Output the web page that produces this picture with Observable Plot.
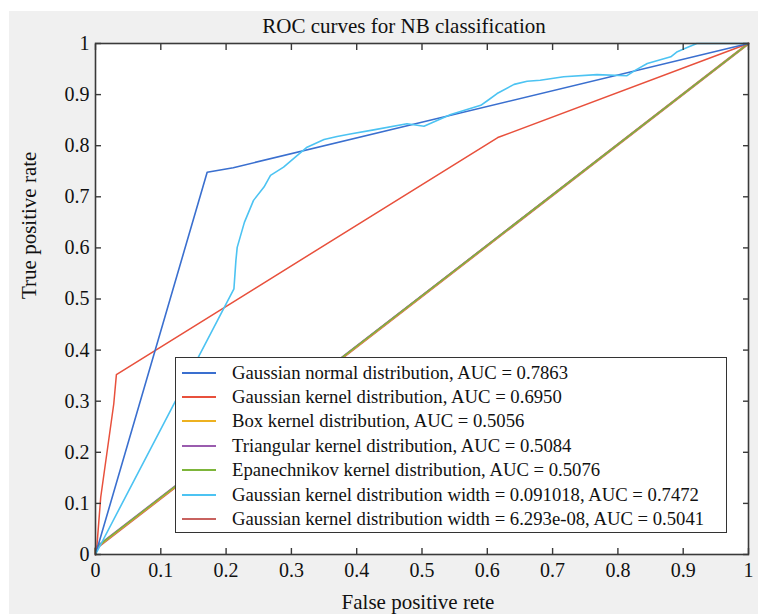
<!DOCTYPE html>
<html>
<head>
<meta charset="utf-8">
<script src="https://cdn.jsdelivr.net/npm/d3@7"></script>
<script src="https://cdn.jsdelivr.net/npm/@observablehq/plot@0.6"></script>
<style>
  html, body { margin: 0; padding: 0; background: #ffffff; }
  #wrap { position: relative; width: 758px; height: 614px; overflow: hidden; }
  #bg { position: absolute; left: 9px; top: 11px; width: 749px; height: 603px; background: #f0f0f0; }
  #chart { position: absolute; left: 0; top: 0; }
  #legend { position: absolute; left: 175px; top: 357px; width: 550px; height: 174px;
            border: 1.5px solid #333; background: #fff; font-family: "Liberation Serif", serif;
            font-size: 18.7px; color: #111; box-sizing: content-box; }
  .row { position: absolute; left: 0; height: 24px; display: flex; align-items: center; white-space: nowrap; }
  .sw { width: 34px; height: 2px; margin-left: 6px; margin-right: 16px; }
</style>
</head>
<body>
<div id="wrap">
  <div id="bg"></div>
  <div id="chart"></div>
  <div id="legend"></div>
</div>
<script>
// ---- data ----
const seriesNames = [
  "Gaussian normal distribution, AUC = 0.7863",
  "Gaussian kernel distribution, AUC = 0.6950",
  "Box kernel distribution, AUC = 0.5056",
  "Triangular kernel distribution, AUC = 0.5084",
  "Epanechnikov kernel distribution, AUC = 0.5076",
  "Gaussian kernel distribution width = 0.091018, AUC = 0.7472",
  "Gaussian kernel distribution width = 6.293e-08, AUC = 0.5041"
];
const seriesColors = ["#3a6fcf", "#e8503c", "#edb120", "#9a5cae", "#7db53a", "#4cc3f2", "#c8625f"];

const normalX = [0, 0.171, 0.211, 1];
const normalY = [0, 0.748, 0.757, 1];

const kernelX = [0, 0.002, 0.008, 0.028, 0.032, 0.616, 1];
const kernelY = [0, 0.014, 0.112, 0.295, 0.352, 0.816, 1];

const boxX = [0, 0, 1];
const boxY = [0, 0.012, 1];

const triX = [0, 0, 1];
const triY = [0, 0.014, 1];

const epanX = [0, 0, 1];
const epanY = [0, 0.013, 1];

const widthAX = [0, 0.212, 0.215, 0.217, 0.228, 0.242, 0.258, 0.268, 0.288, 0.31, 0.324, 0.35, 0.37, 0.39, 0.426, 0.477, 0.503, 0.544, 0.59, 0.6, 0.615, 0.641, 0.661, 0.681, 0.717, 0.768, 0.814, 0.827, 0.845, 0.881, 0.891, 0.906, 0.921, 1];
const widthAY = [0, 0.52, 0.575, 0.601, 0.65, 0.693, 0.719, 0.742, 0.758, 0.782, 0.797, 0.812, 0.818, 0.823, 0.831, 0.843, 0.838, 0.861, 0.879, 0.888, 0.902, 0.92, 0.926, 0.928, 0.935, 0.939, 0.937, 0.948, 0.961, 0.974, 0.984, 0.992, 1.0, 1];

const widthBX = [0, 0, 1];
const widthBY = [0, 0.011, 1];

const xTicks = [0, 0.1, 0.2, 0.3, 0.4, 0.5, 0.6, 0.7, 0.8, 0.9, 1];
const yTicks = [0, 0.1, 0.2, 0.3, 0.4, 0.5, 0.6, 0.7, 0.8, 0.9, 1];

const titleText = "ROC curves for NB classification";
const xLabel = "False positive rete";
const yLabel = "True positive rate";

// ---- build ----
const curves = [
  {i: 6, xs: widthBX, ys: widthBY, w: 2.4},
  {i: 2, xs: boxX, ys: boxY, w: 1.8},
  {i: 3, xs: triX, ys: triY, w: 1.5},
  {i: 4, xs: epanX, ys: epanY, w: 1.4},
  {i: 1, xs: kernelX, ys: kernelY, w: 1.5},
  {i: 0, xs: normalX, ys: normalY, w: 1.6},
  {i: 5, xs: widthAX, ys: widthAY, w: 1.6}
];

const lineMarks = curves.map(c => {
  const rows = c.xs.map((x, k) => ({x, y: c.ys[k], s: seriesNames[c.i]}));
  return Plot.line(rows, {x: "x", y: "y", stroke: "s", strokeWidth: c.w});
});

const axisColor = "#3a3a3a";
const fmt = d => String(d);

const chart = Plot.plot({
  width: 758,
  height: 614,
  marginLeft: 95,
  marginRight: 10,
  marginTop: 43,
  marginBottom: 60,
  x: {domain: [0, 1]},
  y: {domain: [0, 1]},
  color: {domain: seriesNames, range: seriesColors},
  style: {background: "transparent", fontFamily: "'Liberation Serif', serif", color: "#111", overflow: "visible"},
  marks: [
    Plot.frame({fill: "white", stroke: "none"}),
    ...lineMarks,
    Plot.frame({stroke: axisColor, strokeWidth: 1.6}),
    Plot.axisX(xTicks, {anchor: "bottom", tickSize: -6, tickFormat: () => "", label: null, stroke: axisColor, strokeWidth: 1.4}),
    Plot.axisX(xTicks, {anchor: "top", tickSize: -6, tickFormat: () => "", label: null, stroke: axisColor, strokeWidth: 1.4}),
    Plot.axisY(yTicks, {anchor: "left", tickSize: -6, tickFormat: () => "", label: null, stroke: axisColor, strokeWidth: 1.4}),
    Plot.axisY(yTicks, {anchor: "right", tickSize: -6, tickFormat: () => "", label: null, stroke: axisColor, strokeWidth: 1.4}),
    Plot.axisX(xTicks, {anchor: "bottom", tickSize: 0, tickPadding: 8, tickFormat: fmt, label: null, fontSize: 20, fill: "#111"}),
    Plot.axisY(yTicks, {anchor: "left", tickSize: 0, tickPadding: 6, tickFormat: fmt, label: null, fontSize: 20, fill: "#111"}),
    Plot.text([titleText], {text: d => d, frameAnchor: "top", dy: -17, dx: -18, lineAnchor: "middle", fontSize: 21, fill: "#111"}),
    Plot.text([xLabel], {text: d => d, frameAnchor: "bottom", dy: 48, dx: -4, lineAnchor: "middle", fontSize: 21, fill: "#111"}),
    Plot.text([yLabel], {text: d => d, frameAnchor: "left", dx: -66, rotate: -90, lineAnchor: "middle", fontSize: 21, fill: "#111"})
  ]
});
document.getElementById("chart").appendChild(chart);

// ---- legend ----
const legend = document.getElementById("legend");
seriesNames.forEach((name, i) => {
  const row = document.createElement("div");
  row.className = "row";
  row.style.top = (2.5 + i * 24.4) + "px";
  const sw = document.createElement("span");
  sw.className = "sw";
  sw.style.background = seriesColors[i];
  const tx = document.createElement("span");
  tx.textContent = name;
  row.appendChild(sw);
  row.appendChild(tx);
  legend.appendChild(row);
});
</script>
</body>
</html>
